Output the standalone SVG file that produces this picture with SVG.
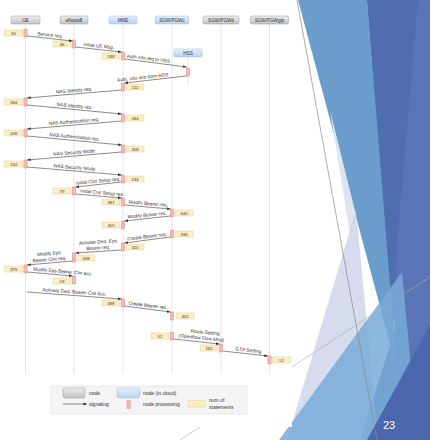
<svg xmlns="http://www.w3.org/2000/svg" width="430" height="440" viewBox="0 0 430 440">
<defs>
<linearGradient id="gGray" x1="0" y1="0" x2="0" y2="1"><stop offset="0" stop-color="#eeeeee"/><stop offset="1" stop-color="#c2c2c2"/></linearGradient>
<linearGradient id="gBlue" x1="0" y1="0" x2="0" y2="1"><stop offset="0" stop-color="#e4effb"/><stop offset="1" stop-color="#b8d2ef"/></linearGradient>
<marker id="ah" markerWidth="4" markerHeight="4" refX="3.6" refY="2" orient="auto" markerUnits="userSpaceOnUse"><path d="M0,0.6 L3.8,2 L0,3.4 z" fill="#333"/></marker>
<style>
text{font-family:"Liberation Sans",Arial,sans-serif;fill:#333}
.hb{stroke:#999;stroke-width:0.5}
.gray{fill:url(#gGray)}
.blue{fill:url(#gBlue);stroke:#9dbde2}
.ht{font-size:4.6px;text-anchor:middle}
.ll{stroke:#e3e3e3;stroke-width:0.9}
.bar{fill:#f5b8b8;stroke:#d98a8a;stroke-width:0.5}
.cr{fill:#fbeec3;stroke:#e4cf8c;stroke-width:0.5}
.ct{font-size:4.3px;text-anchor:middle}
.msg{stroke:#3c3c3c;stroke-width:0.6;fill:none;marker-end:url(#ah)}
.lb{font-size:4.8px;text-anchor:middle}
.lg{font-size:5px}
</style>
</defs>
<rect x="0" y="0" width="430" height="440" fill="#ffffff"/>
<g id="slide-decoration">
<polygon points="367,0 430,0 430,440 360,440 395,330" fill="#5b74b7"/>
<polygon points="367,0 418,0 398,233 392,350" fill="#4f6db0"/>
<polygon points="298,0 367,0 397,370" fill="#6a9dcc"/>
<polygon points="330,110 356,215 350,235" fill="#dfe4f1"/>
<polygon points="356,210 287,440 378,440" fill="#c5cde6" opacity="0.7"/>
<polygon points="279,440 402,272 418,440" fill="#78aad8" opacity="0.85"/>
<polygon points="367,440 430,325 430,440" fill="#4c67ad"/>
<line x1="297" y1="0" x2="377" y2="440" stroke="#8a8a8a" stroke-width="0.7"/>
<line x1="180" y1="440" x2="430" y2="277" stroke="#aaaaaa" stroke-width="0.6"/>
<rect x="0" y="0" width="292" height="427" fill="#ffffff"/>
<text x="383" y="429" font-size="11" style="fill:#ffffff">23</text>
</g>
<g id="node-UE">
<line class="ll" x1="25.5" y1="24" x2="25.5" y2="374"/>
<rect class="hb gray" x="11" y="16" width="29" height="8" rx="1.5"/>
<text class="ht" x="25.5" y="21.7">UE</text>
<rect class="bar" x="23.9" y="29" width="3.2" height="8"/>
<rect class="bar" x="23.9" y="98" width="3.2" height="8"/>
<rect class="bar" x="23.9" y="129" width="3.2" height="8"/>
<rect class="bar" x="23.9" y="160" width="3.2" height="8"/>
<rect class="bar" x="23.9" y="265" width="3.2" height="8"/>
<rect class="cr" x="4.5" y="30" width="18" height="6"/><text class="ct" x="13.5" y="34.6">30</text>
<rect class="cr" x="4.5" y="99" width="18" height="6"/><text class="ct" x="13.5" y="103.6">184</text>
<rect class="cr" x="4.5" y="130" width="18" height="6"/><text class="ct" x="13.5" y="134.6">208</text>
<rect class="cr" x="4.5" y="161" width="18" height="6"/><text class="ct" x="13.5" y="165.6">134</text>
<rect class="cr" x="4.5" y="266" width="18" height="6"/><text class="ct" x="13.5" y="270.6">379</text>
</g>
<g id="node-eNodeB">
<line class="ll" x1="74" y1="24" x2="74" y2="374"/>
<rect class="hb gray" x="60" y="16" width="28" height="8" rx="1.5"/>
<text class="ht" x="74" y="21.7">eNodeB</text>
<rect class="bar" x="72.4" y="40" width="3.2" height="8"/>
<rect class="bar" x="72.4" y="187" width="3.2" height="8"/>
<rect class="bar" x="72.4" y="253" width="3.2" height="9"/>
<rect class="bar" x="72.4" y="276" width="3.2" height="8"/>
<rect class="cr" x="53" y="41" width="18" height="6"/><text class="ct" x="62" y="45.6">46</text>
<rect class="cr" x="53" y="188" width="18" height="6"/><text class="ct" x="62" y="192.6">79</text>
<rect class="cr" x="77" y="255" width="18" height="6"/><text class="ct" x="86" y="259.6">338</text>
<rect class="cr" x="53" y="278" width="18" height="6"/><text class="ct" x="62" y="282.6">59</text>
</g>
<g id="node-MME">
<line class="ll" x1="123" y1="24" x2="123" y2="374"/>
<rect class="hb blue" x="109" y="16" width="28" height="8" rx="1.5"/>
<text class="ht" x="123" y="21.7">MME</text>
<rect class="bar" x="121.4" y="52" width="3.2" height="8"/>
<rect class="bar" x="121.4" y="83" width="3.2" height="8"/>
<rect class="bar" x="121.4" y="114" width="3.2" height="8"/>
<rect class="bar" x="121.4" y="145" width="3.2" height="8"/>
<rect class="bar" x="121.4" y="175" width="3.2" height="8"/>
<rect class="bar" x="121.4" y="198" width="3.2" height="8"/>
<rect class="bar" x="121.4" y="221" width="3.2" height="8"/>
<rect class="bar" x="121.4" y="243" width="3.2" height="8"/>
<rect class="bar" x="121.4" y="299" width="3.2" height="8"/>
<rect class="cr" x="102" y="53" width="18" height="6"/><text class="ct" x="111" y="57.6">538</text>
<rect class="cr" x="126" y="84" width="18" height="6"/><text class="ct" x="135" y="88.6">112</text>
<rect class="cr" x="126" y="115" width="18" height="6"/><text class="ct" x="135" y="119.6">184</text>
<rect class="cr" x="126" y="146" width="18" height="6"/><text class="ct" x="135" y="150.6">208</text>
<rect class="cr" x="126" y="176" width="18" height="6"/><text class="ct" x="135" y="180.6">134</text>
<rect class="cr" x="102" y="199" width="18" height="6"/><text class="ct" x="111" y="203.6">397</text>
<rect class="cr" x="102" y="222" width="18" height="6"/><text class="ct" x="111" y="226.6">305</text>
<rect class="cr" x="126" y="244" width="18" height="6"/><text class="ct" x="135" y="248.6">320</text>
<rect class="cr" x="102" y="300" width="18" height="6"/><text class="ct" x="111" y="304.6">498</text>
</g>
<g id="node-SGW-PGWc">
<line class="ll" x1="172" y1="24" x2="172" y2="374"/>
<rect class="hb blue" x="155" y="16" width="34" height="8" rx="1.5"/>
<text class="ht" x="172" y="21.7">SGW/PGWc</text>
<rect class="bar" x="170.4" y="209" width="3.2" height="8"/>
<rect class="bar" x="170.4" y="230" width="3.2" height="8"/>
<rect class="bar" x="170.4" y="312" width="3.2" height="8"/>
<rect class="bar" x="170.4" y="332" width="3.2" height="8"/>
<rect class="cr" x="175" y="210" width="18" height="6"/><text class="ct" x="184" y="214.6">640</text>
<rect class="cr" x="175" y="231" width="18" height="6"/><text class="ct" x="184" y="235.6">336</text>
<rect class="cr" x="176" y="313" width="18" height="6"/><text class="ct" x="185" y="317.6">305</text>
<rect class="cr" x="151" y="333" width="18" height="6"/><text class="ct" x="160" y="337.6">52</text>
</g>
<g id="node-SGW-PGWd">
<line class="ll" x1="221" y1="24" x2="221" y2="374"/>
<rect class="hb gray" x="203" y="16" width="36" height="8" rx="1.5"/>
<text class="ht" x="221" y="21.7">SGW/PGWd</text>
<rect class="bar" x="219.4" y="344" width="3.2" height="8"/>
<rect class="cr" x="200" y="345" width="18" height="6"/><text class="ct" x="209" y="349.6">182</text>
</g>
<g id="node-SGW-PGWgtp">
<line class="ll" x1="269.5" y1="24" x2="269.5" y2="374"/>
<rect class="hb gray" x="250.5" y="16" width="38" height="8" rx="1.5"/>
<text class="ht" x="269.5" y="21.7">SGW/PGWgtp</text>
<rect class="bar" x="267.9" y="356" width="3.2" height="8"/>
<rect class="cr" x="272.5" y="357" width="18" height="6"/><text class="ct" x="281.5" y="361.6">52</text>
</g>
<g id="node-HSS">
<line class="ll" x1="188" y1="57" x2="188" y2="85"/>
<rect class="hb blue" x="174" y="49" width="28" height="8" rx="1.5"/>
<text class="ht" x="188" y="54.7">HSS</text>
<rect class="bar" x="186.4" y="68" width="3.2" height="8"/>
</g>
<g id="connectors">
<line class="msg" x1="27.1" y1="36" x2="72.4" y2="41"/>
<line class="msg" x1="75.6" y1="47" x2="121.4" y2="52"/>
<line class="msg" x1="124.6" y1="59" x2="186.4" y2="67"/>
<line class="msg" x1="186.4" y1="76" x2="124.6" y2="83"/>
<line class="msg" x1="121.4" y1="90" x2="27.1" y2="98"/>
<line class="msg" x1="27.1" y1="105" x2="121.4" y2="114"/>
<line class="msg" x1="121.4" y1="121" x2="27.1" y2="129"/>
<line class="msg" x1="27.1" y1="136" x2="121.4" y2="145"/>
<line class="msg" x1="121.4" y1="152" x2="27.1" y2="160"/>
<line class="msg" x1="27.1" y1="167" x2="121.4" y2="175"/>
<line class="msg" x1="121.4" y1="182" x2="75.6" y2="187"/>
<line class="msg" x1="75.6" y1="194" x2="121.4" y2="198"/>
<line class="msg" x1="124.6" y1="205" x2="170.4" y2="209"/>
<line class="msg" x1="170.4" y1="216" x2="124.6" y2="221"/>
<line class="msg" x1="170.4" y1="237" x2="124.6" y2="243"/>
<line class="msg" x1="121.4" y1="250" x2="75.6" y2="253"/>
<line class="msg" x1="72.4" y1="261" x2="27.1" y2="265"/>
<line class="msg" x1="27.1" y1="272" x2="72.4" y2="276"/>
<line class="msg" x1="27.1" y1="292" x2="121.4" y2="299"/>
<line class="msg" x1="124.6" y1="306" x2="170.4" y2="312"/>
<line class="msg" x1="173.6" y1="339" x2="219.4" y2="344"/>
<line class="msg" x1="222.6" y1="351" x2="267.9" y2="356"/>
<g transform="translate(49.75,38.5) rotate(5.9)"><text class="lb" y="-2">Service req.</text></g>
<g transform="translate(98.5,49.5) rotate(5.8)"><text class="lb" y="-2">Initial UE Msg.</text></g>
<g transform="translate(148,62.1) rotate(7)"><text class="lb" y="-2">Auth info req to HSS</text></g>
<g transform="translate(143,80.9) rotate(-6.15)"><text class="lb" y="-2">Auth. info ans from HSS</text></g>
<g transform="translate(74.25,94) rotate(-4.7)"><text class="lb" y="-2">NAS Identity req.</text></g>
<g transform="translate(74.25,109.5) rotate(5.3)"><text class="lb" y="-2">NAS Identity res.</text></g>
<g transform="translate(74.25,125) rotate(-4.7)"><text class="lb" y="-2">NAS Authentication req.</text></g>
<g transform="translate(74.25,140.5) rotate(5.3)"><text class="lb" y="-2">NAS Authentication res.</text></g>
<g transform="translate(74.25,156) rotate(-4.7)"><text class="lb" y="-2">NAS Security Mode</text></g>
<g transform="translate(74.25,171) rotate(4.7)"><text class="lb" y="-2">NAS Security Mode</text></g>
<g transform="translate(98.5,184.5) rotate(-5.8)"><text class="lb" y="-2">Initial Ctxt Setup req.</text></g>
<g transform="translate(102,196.3) rotate(4.7)"><text class="lb" y="-2">Initial Ctxt Setup res.</text></g>
<g transform="translate(148,207) rotate(4.7)"><text class="lb" y="-2">Modify Bearer req.</text></g>
<g transform="translate(147.5,218.5) rotate(-5.8)"><text class="lb" y="-2">Modify Bearer res.</text></g>
<g transform="translate(147.5,240) rotate(-7)"><text class="lb" y="-2">Create Bearer req.</text></g>
<g transform="translate(98.5,251.5) rotate(-3.5)"><text class="lb" y="-8">Activate Ded. Eps</text><text class="lb" y="-2">Bearer req.</text></g>
<g transform="translate(49.75,263) rotate(-4.7)"><text class="lb" y="-8">Modify Eps</text><text class="lb" y="-2">Bearer Ctxt req.</text></g>
<g transform="translate(62.5,275) rotate(4.7)"><text class="lb" y="-2">Modify Eps Bearer Ctxt acc.</text></g>
<g transform="translate(74.25,295.5) rotate(4.1)"><text class="lb" y="-2">Activate Ded. Bearer Ctxt Acc.</text></g>
<g transform="translate(147.5,309) rotate(7)"><text class="lb" y="-2">Create Bearer res.</text></g>
<g transform="translate(201,342) rotate(5.8)"><text class="lb" y="-8.5" x="3">Route Setting</text><text class="lb" y="-2.5">(Openflow Flow Mod)</text></g>
<g transform="translate(248,353.8) rotate(5.9)"><text class="lb" y="-2">GTP Setting</text></g>
</g>
<g id="legend">
<rect x="51" y="386" width="196" height="28" fill="#f4f4f4" stroke="#dddddd" stroke-width="0.6"/>
<rect class="hb gray" x="63" y="388" width="22" height="10" rx="2"/>
<text class="lg" x="89" y="395">node</text>
<rect class="hb blue" x="117" y="388" width="23" height="10" rx="2"/>
<text class="lg" x="143" y="395">node (in cloud)</text>
<line class="msg" x1="63" y1="404" x2="87" y2="404"/>
<text class="lg" x="89" y="406">signaling</text>
<rect class="bar" x="127" y="400.5" width="3.2" height="8"/>
<text class="lg" x="143" y="406">node processing</text>
<rect class="cr" x="188" y="400.5" width="17" height="6.5"/>
<text class="lg" x="209" y="402">num of</text>
<text class="lg" x="209" y="409">statements</text>
</g>
</svg>
